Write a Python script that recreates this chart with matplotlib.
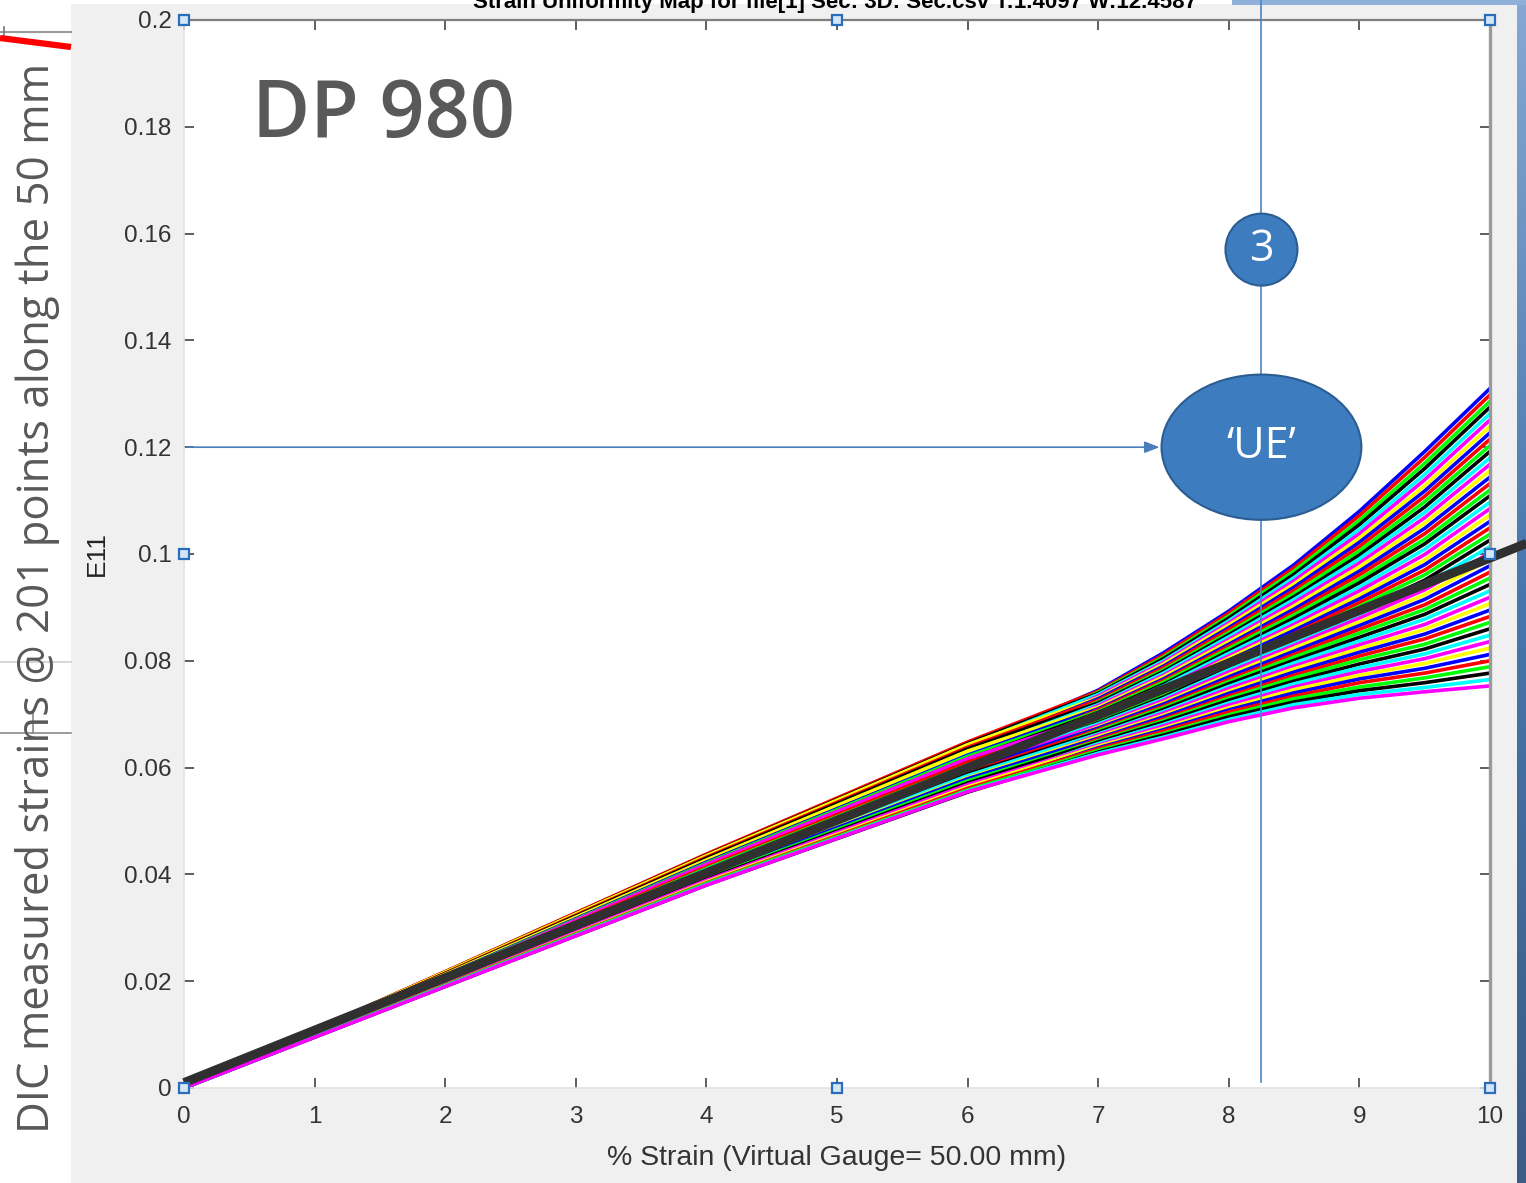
import numpy as np
import matplotlib
matplotlib.use('Agg')
import matplotlib.pyplot as plt
from matplotlib.patches import Ellipse, Rectangle

plt.rcParams['font.family'] = ['Liberation Sans', 'DejaVu Sans']

# virtual gauge strain (%) where each DIC point was sampled
strain_pct = [0, 2, 4, 6, 7, 7.5, 8, 8.5, 9, 9.5, 10]

# local E11 at each DIC point along the gauge, one row per point
e11_points = [
    [0, .0217, .0436, .0640, .0745, .0815, .0893, .0980, .1080, .1192, .1310],
    [0, .0218, .0438, .0648, .0743, .0811, .0889, .0974, .1072, .1181, .1298],
    [0, .0213, .0427, .0630, .0741, .0807, .0884, .0968, .1063, .1170, .1286],
    [0, .0217, .0436, .0645, .0739, .0804, .0880, .0962, .1055, .1160, .1275],
    [0, .0216, .0434, .0641, .0737, .0800, .0875, .0956, .1046, .1149, .1263],
    [0, .0211, .0423, .0624, .0734, .0797, .0871, .0950, .1038, .1139, .1251],
    [0, .0217, .0435, .0643, .0731, .0794, .0867, .0944, .1030, .1128, .1239],
    [0, .0214, .0429, .0633, .0729, .0790, .0862, .0938, .1022, .1118, .1227],
    [0, .0215, .0432, .0638, .0726, .0787, .0858, .0932, .1014, .1108, .1215],
    [0, .0210, .0420, .0619, .0723, .0783, .0853, .0926, .1006, .1098, .1203],
    [0, .0214, .0430, .0635, .0721, .0780, .0849, .0920, .0998, .1088, .1192],
    [0, .0212, .0425, .0627, .0718, .0777, .0845, .0915, .0991, .1078, .1180],
    [0, .0207, .0416, .0612, .0716, .0773, .0840, .0909, .0983, .1068, .1168],
    [0, .0213, .0427, .0631, .0713, .0770, .0836, .0903, .0976, .1058, .1156],
    [0, .0211, .0423, .0623, .0710, .0766, .0831, .0897, .0968, .1048, .1144],
    [0, .0207, .0414, .0610, .0708, .0763, .0827, .0891, .0961, .1038, .1132],
    [0, .0210, .0421, .0621, .0705, .0760, .0823, .0886, .0953, .1028, .1120],
    [0, .0208, .0418, .0615, .0703, .0756, .0818, .0880, .0946, .1019, .1109],
    [0, .0205, .0410, .0602, .0700, .0753, .0814, .0874, .0938, .1009, .1097],
    [0, .0209, .0419, .0617, .0697, .0749, .0809, .0868, .0931, .0999, .1085],
    [0, .0206, .0413, .0608, .0695, .0746, .0805, .0863, .0923, .0989, .1073],
    [0, .0203, .0406, .0598, .0692, .0743, .0801, .0857, .0916, .0980, .1061],
    [0, .0207, .0414, .0610, .0689, .0739, .0796, .0851, .0909, .0970, .1049],
    [0, .0205, .0411, .0605, .0687, .0736, .0792, .0846, .0902, .0961, .1037],
    [0, .0202, .0404, .0592, .0684, .0732, .0787, .0840, .0894, .0951, .1026],
    [0, .0204, .0409, .0600, .0682, .0729, .0783, .0835, .0887, .0942, .1014],
    [0, .0203, .0406, .0596, .0679, .0726, .0779, .0829, .0880, .0933, .1002],
    [0, .0200, .0400, .0587, .0676, .0722, .0774, .0824, .0873, .0924, .0990],
    [0, .0203, .0406, .0595, .0674, .0719, .0770, .0818, .0866, .0915, .0978],
    [0, .0201, .0403, .0590, .0671, .0715, .0765, .0812, .0859, .0905, .0966],
    [0, .0198, .0396, .0581, .0669, .0712, .0761, .0807, .0852, .0896, .0955],
    [0, .0201, .0401, .0588, .0666, .0709, .0757, .0801, .0844, .0887, .0943],
    [0, .0200, .0399, .0585, .0663, .0705, .0752, .0796, .0837, .0878, .0931],
    [0, .0196, .0392, .0573, .0661, .0702, .0748, .0790, .0830, .0868, .0919],
    [0, .0198, .0397, .0581, .0658, .0698, .0743, .0785, .0823, .0859, .0907],
    [0, .0198, .0396, .0579, .0655, .0695, .0739, .0779, .0816, .0850, .0895],
    [0, .0194, .0388, .0567, .0653, .0691, .0734, .0773, .0809, .0841, .0883],
    [0, .0197, .0393, .0575, .0650, .0688, .0730, .0768, .0802, .0831, .0872],
    [0, .0196, .0391, .0571, .0648, .0685, .0726, .0762, .0794, .0822, .0860],
    [0, .0193, .0385, .0562, .0645, .0681, .0721, .0757, .0787, .0813, .0848],
    [0, .0195, .0389, .0568, .0642, .0678, .0717, .0751, .0780, .0804, .0836],
    [0, .0193, .0386, .0564, .0640, .0674, .0712, .0746, .0773, .0795, .0824],
    [0, .0191, .0382, .0557, .0637, .0671, .0708, .0740, .0766, .0786, .0812],
    [0, .0193, .0384, .0561, .0635, .0668, .0704, .0734, .0759, .0777, .0800],
    [0, .0192, .0383, .0558, .0632, .0664, .0699, .0729, .0751, .0768, .0789],
    [0, .0190, .0380, .0554, .0629, .0661, .0695, .0723, .0744, .0759, .0777],
    [0, .0191, .0381, .0556, .0627, .0657, .0690, .0718, .0737, .0750, .0765],
    [0, .0190, .0380, .0555, .0624, .0654, .0686, .0712, .0730, .0742, .0753],
]

# straight line through the origin (uniform strain reference)
ref_line_x = [0, 10.28]
ref_line_y = [0.001, 0.102]

ue_strain_pct = 8.25   # gauge strain at uniform elongation
ue_e11 = 0.12          # E11 level marked as 'UE'
step_e11 = 0.157       # height of the step bubble

x_ticks = list(range(0, 11))
y_ticks = [0, 0.02, 0.04, 0.06, 0.08, 0.1, 0.12, 0.14, 0.16, 0.18, 0.2]
y_ticklabels = ['0', '0.02', '0.04', '0.06', '0.08', '0.1', '0.12', '0.14', '0.16', '0.18', '0.2']

line_colors = ['#0000ff', '#ff0000', '#00ff00', '#000000', '#00ffff', '#ff00ff', '#ffff00']
ppt_blue = '#3c7cbf'
ppt_edge = '#2c5d91'
W, H = 1526, 1183

fig = plt.figure(figsize=(W / 100, H / 100), dpi=100, facecolor='#f0f0f0')

# slide background pieces behind the MATLAB figure
bg = fig.add_axes([0, 0, 1, 1], zorder=-1)
bg.set_xlim(0, W)
bg.set_ylim(H, 0)
bg.axis('off')
bg.add_patch(Rectangle((0, 0), 71, H, facecolor='white', edgecolor='none'))
bg.add_patch(Rectangle((71, 0), 1161, 4, facecolor='white', edgecolor='none'))
bg.add_patch(Rectangle((1232, 0), W - 1232, 5, facecolor='#8fb0d8', edgecolor='none'))
grad = np.linspace(0, 1, 256).reshape(-1, 1)
bg.imshow(grad, cmap=matplotlib.colors.LinearSegmentedColormap.from_list(
    'side', ['#86a8d3', '#4776ad', '#3c5c86']), extent=[1517, W, H, 0], aspect='auto')
bg.plot([0, 71], [32, 32], color='#9a9a9a', lw=1.5)
bg.plot([4, 4], [27, 36], color='#777777', lw=1.2)
bg.plot([0, 71], [38, 47], color='#ff0000', lw=4.5, solid_capstyle='butt')
bg.plot([0, 71], [662, 662], color='#cfcfcf', lw=1.2)
bg.plot([0, 71], [733, 733], color='#8a8a8a', lw=1.2)
bg.plot([33, 33], [713, 733], color='#8a8a8a', lw=1.2)
bg.text(38, 598, 'DIC measured strains @ 201 points along the 50 mm', rotation=90,
        ha='center', va='center', fontsize=31.5, color='#595959', family='Open Sans')

ax = fig.add_axes([184 / W, 1 - 1088 / H, 1306 / W, 1068 / H])
ax.set_facecolor('white')

for i, row in enumerate(e11_points):
    ax.plot(strain_pct, row, color=line_colors[i % len(line_colors)], lw=2.6,
            solid_joinstyle='round', zorder=2)

ax.plot(ref_line_x, ref_line_y, color='#303030', lw=6.5, solid_capstyle='butt',
        clip_on=False, zorder=4)

ax.set_xlim(0, 10)
ax.set_ylim(0, 0.2)
ax.set_xticks(x_ticks)
ax.set_yticks(y_ticks)
ax.set_yticklabels(y_ticklabels)
ax.tick_params(direction='in', length=7, width=1.1, colors='#333333', labelsize=17.5,
               top=True, right=True)
ax.tick_params(axis='x', pad=13)
ax.tick_params(axis='y', pad=9)
for side in ['left', 'bottom']:
    ax.spines[side].set_color('#e2e2e2')
    ax.spines[side].set_linewidth(1.2)
ax.spines['top'].set_color('#7f7f7f')
ax.spines['top'].set_linewidth(1.6)
ax.spines['right'].set_color('#9a9a9a')
ax.spines['right'].set_linewidth(2.4)

ax.set_xlabel('% Strain (Virtual Gauge= 50.00 mm)', fontsize=20.5, color='#333333')
ax.xaxis.set_label_coords(0.5, -0.066)
ax.xaxis.label.set_va('center')
ax.set_ylabel('E11', fontsize=19, color='#222222')
ax.yaxis.set_label_coords(-0.0666, 0.5)
ax.yaxis.label.set_va('center')

# MATLAB title, mostly hidden under the top edge of the slide
fig.text(835 / W, 1 - 8 / H,
         'Strain Uniformity Map for file[1] Sec: 3D: Sec.csv T:1.4097 W:12.4587',
         ha='center', va='baseline', fontsize=16, fontweight='bold', color='black')

# figure selection handles
handles = [(0, 0), (0.5, 0), (1, 0), (0, 0.5), (1, 0.5), (0, 1), (0.5, 1), (1, 1)]
for hx, hy in handles:
    ax.plot(hx, hy, 's', transform=ax.transAxes, ms=7, mfc='#d3e6f6', mec='#2a6ebb',
            mew=1.6, clip_on=False, zorder=6)

# slide callouts on top of the plot
ax.text(0.052, 0.91, 'DP 980', transform=ax.transAxes, fontsize=57, color='#595959',
        family='Open Sans', fontweight='semibold', ha='left', va='center')
ax.plot([ue_strain_pct, ue_strain_pct], [0.0012, 0.2037], color='#4a86c8', lw=1.2,
        clip_on=False, zorder=5)
ax.annotate('', xy=(7.47, ue_e11), xytext=(0.02, ue_e11),
            arrowprops=dict(arrowstyle='-|>,head_length=0.9,head_width=0.35',
                            color='#4a7ebb', lw=1.2, shrinkA=0, shrinkB=0), zorder=5)
ax.add_patch(Ellipse((ue_strain_pct, ue_e11), 1.53, 0.0272, facecolor=ppt_blue,
                     edgecolor=ppt_edge, lw=1.5, zorder=7))
ax.text(ue_strain_pct, ue_e11, '\u2018UE\u2019', color='white', fontsize=31,
        family='Open Sans', ha='center', va='center', zorder=8)
ax.add_patch(Ellipse((ue_strain_pct, step_e11), 0.551, 0.01348, facecolor=ppt_blue,
                     edgecolor=ppt_edge, lw=1.5, zorder=7))
ax.text(ue_strain_pct, step_e11, '3', color='white', fontsize=31,
        family='Open Sans', ha='center', va='center', zorder=8)

fig.savefig('out.png', dpi=100, facecolor=fig.get_facecolor())
